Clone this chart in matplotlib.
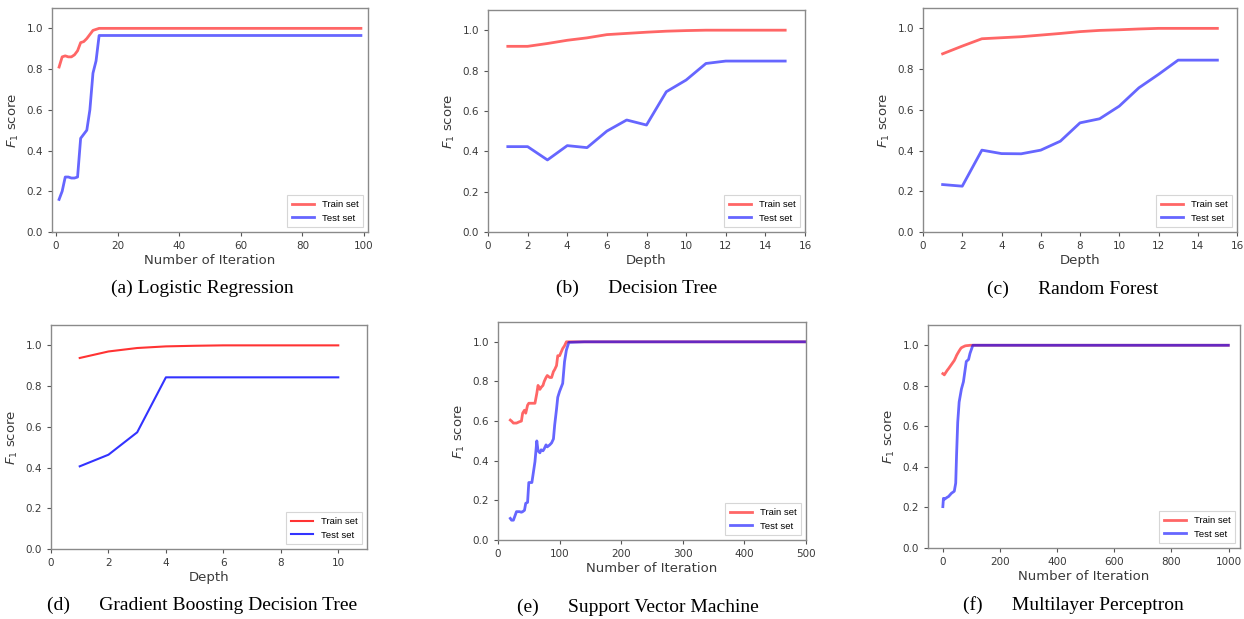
#!/usr/bin/env python3
# -*- coding: utf-8 -*-
"""
plot.py - F1 score learning curves for six classifiers (train vs test).
Writes out.png (1244x619).
"""
import matplotlib
matplotlib.use("Agg")
import matplotlib.pyplot as plt

# (a) Logistic Regression - number of iteration
lr_x = [1, 2, 3, 4, 5, 6, 7, 8, 9, 10, 11, 12, 13, 14, 99]
lr_train = [0.81, 0.86, 0.865, 0.86, 0.86, 0.87, 0.89, 0.93, 0.935, 0.95, 0.97, 0.99, 0.995, 1.0, 1.0]
lr_test = [0.16, 0.20, 0.27, 0.27, 0.265, 0.265, 0.27, 0.46, 0.48, 0.50, 0.60, 0.78, 0.84, 0.965, 0.965]

# (b) Decision Tree - depth
dt_x = list(range(1, 16))
dt_train = [0.92, 0.92, 0.934, 0.95, 0.962, 0.978, 0.984, 0.99, 0.995, 0.998, 1.0, 1.0, 1.0, 1.0, 1.0]
dt_test = [0.423, 0.423, 0.357, 0.428, 0.418, 0.50, 0.555, 0.53, 0.695, 0.753, 0.835, 0.847, 0.847, 0.847, 0.847]

# (c) Random Forest - depth
rf_x = list(range(1, 16))
rf_train = [0.875, 0.913, 0.949, 0.954, 0.959, 0.967, 0.975, 0.984, 0.99, 0.993, 0.997, 1.0, 1.0, 1.0, 1.0]
rf_test = [0.233, 0.225, 0.402, 0.385, 0.384, 0.402, 0.446, 0.536, 0.556, 0.618, 0.708, 0.774, 0.844, 0.844, 0.844]

# (d) Gradient Boosting Decision Tree - depth
gb_x = list(range(1, 11))
gb_train = [0.938, 0.97, 0.987, 0.995, 0.998, 1.0, 1.0, 1.0, 1.0, 1.0]
gb_test = [0.406, 0.463, 0.573, 0.843, 0.843, 0.843, 0.843, 0.843, 0.843, 0.843]

# (e) Support Vector Machine - number of iteration
svm_x = [20, 22, 25, 30, 35, 38, 40, 43, 45, 48, 50, 55, 60, 63, 65, 68, 70, 73, 75, 78,
         80, 84, 87, 90, 92, 95, 97, 100, 105, 108, 111, 115, 140, 500]
svm_train = [0.605, 0.60, 0.59, 0.59, 0.597, 0.60, 0.64, 0.655, 0.64, 0.68, 0.69, 0.69, 0.69, 0.74, 0.78, 0.76, 0.77, 0.78, 0.80, 0.82,
             0.83, 0.82, 0.82, 0.85, 0.86, 0.88, 0.93, 0.93, 0.966, 0.98, 1.0, 1.0, 1.0, 1.0]
svm_test = [0.109, 0.10, 0.10, 0.143, 0.143, 0.14, 0.143, 0.15, 0.185, 0.19, 0.29, 0.29, 0.395, 0.50, 0.45, 0.44, 0.455, 0.45, 0.46, 0.48,
            0.47, 0.48, 0.49, 0.51, 0.58, 0.66, 0.72, 0.75, 0.79, 0.90, 0.958, 0.997, 1.0, 1.0]

# (f) Multilayer Perceptron - number of iteration
mlp_x = [0, 2, 5, 10, 15, 20, 30, 40, 45, 48, 52, 57, 62, 65, 72, 78, 82, 90, 95, 100, 105, 999]
mlp_train = [0.86, 0.858, 0.854, 0.865, 0.876, 0.885, 0.905, 0.925, 0.94, 0.95, 0.96, 0.972, 0.983, 0.988, 0.993, 0.997, 0.998, 0.999, 1.0, 1.0, 1.0, 1.0]
mlp_test = [0.204, 0.245, 0.24, 0.245, 0.25, 0.254, 0.27, 0.28, 0.32, 0.46, 0.62, 0.72, 0.76, 0.784, 0.82, 0.88, 0.92, 0.93, 0.96, 0.98, 1.0, 1.0]

captions = [
    "(a) Logistic Regression",
    "(b)      Decision Tree",
    "(c)      Random Forest",
    "(d)      Gradient Boosting Decision Tree",
    "(e)      Support Vector Machine",
    "(f)      Multilayer Perceptron",
]

W, H = 1244, 619
TXT = "#3a3a3a"


def _rect(l, r, t, b):
    # pixel box -> figure fraction
    return [l / W, 1 - b / H, (r - l) / W, (b - t) / H]


def draw_panel(ax, x, train, test, xlabel, xlim, xticks, lw=2.0, alpha=0.6):
    ax.plot(x, train, color="red", alpha=alpha, lw=lw, label="Train set")
    ax.plot(x, test, color="blue", alpha=alpha, lw=lw, label="Test set")
    ax.set_xlim(*xlim)
    ax.set_ylim(0, 1.1)
    ax.set_xticks(xticks)
    ax.set_yticks([0.0, 0.2, 0.4, 0.6, 0.8, 1.0])
    ax.set_yticklabels(["0.0", "0.2", "0.4", "0.6", "0.8", "1.0"])
    ax.tick_params(labelsize=7.5, colors="#555555", labelcolor=TXT, length=3, width=0.8)
    for s in ax.spines.values():
        s.set_color("#8a8a8a")
        s.set_linewidth(1.0)
    ax.set_xlabel(xlabel, fontsize=9.5, color=TXT, labelpad=2.5)
    ax.set_ylabel("$F_1$ score", fontsize=9.5, color=TXT, labelpad=4)
    leg = ax.legend(loc="lower right", handlelength=2.4,
                    prop={"family": "Liberation Sans", "size": 6.8},
                    borderpad=0.5, labelspacing=0.5, fancybox=False)
    leg.get_frame().set_edgecolor("#cccccc")
    leg.get_frame().set_linewidth(0.8)


def main():
    fig = plt.figure(figsize=(W / 100, H / 100), dpi=100)

    ax = fig.add_axes(_rect(52, 368, 8, 232))
    draw_panel(ax, lr_x, lr_train, lr_test, "Number of Iteration", (-1.3, 101.3), range(0, 101, 20))

    ax = fig.add_axes(_rect(488, 805, 10, 232))
    draw_panel(ax, dt_x, dt_train, dt_test, "Depth", (0, 16), range(0, 17, 2))

    ax = fig.add_axes(_rect(923, 1237, 8, 232))
    draw_panel(ax, rf_x, rf_train, rf_test, "Depth", (0, 16), range(0, 17, 2))

    ax = fig.add_axes(_rect(51, 367, 325, 549))
    draw_panel(ax, gb_x, gb_train, gb_test, "Depth", (0, 11), range(0, 11, 2), lw=1.5, alpha=0.8)

    ax = fig.add_axes(_rect(498, 806, 322, 540))
    draw_panel(ax, svm_x, svm_train, svm_test, "Number of Iteration", (0, 500), range(0, 501, 100))

    ax = fig.add_axes(_rect(928, 1240, 325, 548))
    draw_panel(ax, mlp_x, mlp_train, mlp_test, "Number of Iteration", (-52, 1040), range(0, 1001, 200))

    # captions under each panel
    cap_pos = [(202, 288), (637, 288), (1073, 289), (202, 605), (638, 607), (1073, 605)]
    for text, (cx, cy) in zip(captions, cap_pos):
        fig.text(cx / W, 1 - cy / H, text, ha="center", va="center",
                 fontsize=14, family="Liberation Serif", color="black")

    fig.savefig("out.png", dpi=100)
    plt.close(fig)


if __name__ == "__main__":
    main()
